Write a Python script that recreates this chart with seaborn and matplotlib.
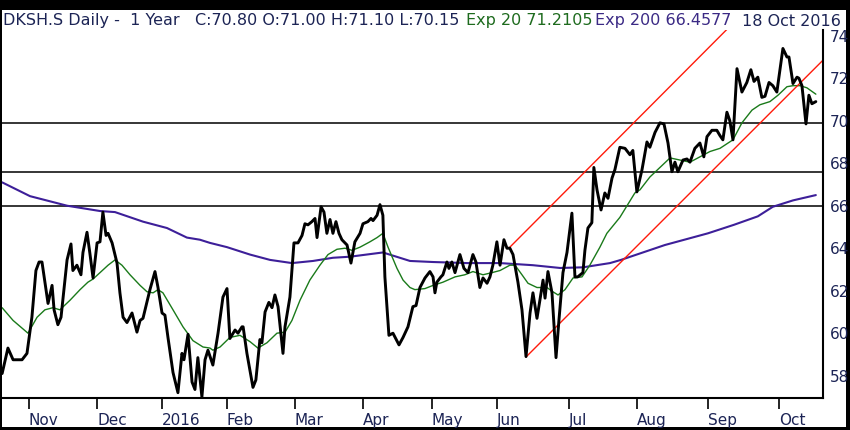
import numpy as np
import pandas as pd
import matplotlib
matplotlib.use("Agg")
import matplotlib.pyplot as plt
import seaborn as sns
from matplotlib.patches import Rectangle

# x values are days counted from 1 Nov 2015
close_day = [-12.0, -9.4, -7.1, -3.1, -0.9, 1.3, 3.1, 4.5, 5.8, 8.5, 10.3, 11.2, 12.9, 14.3,
             17.0, 18.75, 19.6, 21.4, 23.2, 24.1, 25.9, 27.2, 28.6, 30.4, 31.7, 33.0, 34.4,
             35.3, 37.1, 39.3, 40.6, 42.0, 43.75, 46.0, 48.2, 49.6, 50.9, 54.0, 56.25, 57.6,
             59.4, 60.7, 62.05, 64.3, 66.5, 68.3, 69.2, 71.0, 72.8, 74.1, 75.4, 77.2, 78.6,
             79.9, 82.1, 84.4, 86.6, 88.4, 89.7, 92.0, 93.3, 95.1, 95.6, 97.3, 100.0, 101.3,
             103.1, 104.0, 105.4, 107.1, 108.5, 109.8, 111.2, 113.4, 114.3, 116.5, 118.3,
             120.1, 121.9, 123.2, 124.55, 126.3, 127.7, 128.6, 130.4, 131.7, 133.0, 134.4,
             135.7, 137.05, 138.4, 139.7, 142.0, 143.75, 145.5, 147.8, 149.1, 151.3, 152.7,
             153.6, 155.4, 156.7, 158.0, 158.9, 160.7, 162.5, 165.2, 167.0, 169.2, 171.4,
             172.8, 174.55, 176.8, 179.0, 180.4, 181.25, 182.1, 183.9, 184.8, 186.6, 187.5,
             188.8, 190.2, 192.4, 194.2, 196.0, 198.2, 199.55, 201.3, 202.7, 204.5, 205.8,
             207.1, 208.9, 210.3, 212.05, 213.4, 214.7, 216.1, 218.3, 220.1, 221.9, 223.7,
             225.0, 226.8, 228.1, 229.5, 230.4, 231.7, 233.5, 235.3, 236.6, 238.4, 240.2,
             242.4, 243.75, 245.0, 247.3, 248.2, 249.55, 251.3, 252.2, 253.6, 255.4, 257.1,
             258.5, 260.3, 261.6, 263.8, 266.1, 268.3, 269.6, 271.4, 273.7, 275.9, 277.2,
             279.5, 281.7, 283.5, 285.3, 287.05, 288.4, 289.7, 292.0, 293.75, 295.1, 297.3,
             299.55, 301.3, 302.7, 304.9, 307.1, 308.5, 309.8, 311.6, 312.9, 314.3, 316.1,
             318.3, 320.5, 322.3, 323.7, 325.4, 327.2, 328.6, 330.4, 332.1, 333.9, 336.6,
             338.4, 339.3, 341.1, 342.9, 343.75, 345.1, 346.9, 348.2, 349.55, 351.3]
close = [58.1, 59.3, 58.75, 58.75, 59.05, 60.75, 62.95, 63.35, 63.35, 61.4, 62.25, 61.1, 60.4, 60.75,
         63.45, 64.2, 62.95, 63.2, 62.75, 63.8, 64.75, 63.75, 62.6, 64.25, 64.3, 65.7, 64.6,
         64.7, 64.25, 63.3, 61.9, 60.75, 60.5, 60.95, 60.05, 60.6, 60.7, 62.05, 62.9, 62.15,
         60.95, 60.85, 59.8, 58.15, 57.2, 59.05, 58.75, 59.95, 57.7, 57.35, 58.85, 57.0, 58.75,
         59.2, 58.5, 60.0, 61.7, 62.1, 59.75, 60.15, 60.0, 60.3, 60.3, 59.05, 57.45, 57.8,
         59.7, 59.55, 61.0, 61.45, 61.2, 61.8, 61.25, 59.05, 60.3, 61.7, 64.25,
         64.25, 64.6, 65.15, 65.1, 65.25, 65.4, 64.5, 65.95, 65.7, 64.7, 65.35,
         64.7, 65.25, 64.7, 64.4, 64.15, 63.3, 64.3, 64.7, 65.15, 65.25, 65.4,
         65.3, 65.55, 66.05, 65.55, 62.65, 59.9, 60.0, 59.45, 59.8, 60.3, 61.25,
         61.3, 62.15, 62.6, 62.9, 62.65, 61.9, 62.4, 62.65, 62.75, 63.35, 63.05,
         63.35, 62.85, 63.7, 63.05, 62.85, 63.7, 63.35, 62.15, 62.6, 62.35, 62.65,
         63.2, 64.3, 63.2, 64.4, 64.0, 64.0, 63.7, 62.4, 61.1, 58.9, 60.95,
         61.9, 60.7, 61.55, 62.5, 61.65, 62.9, 61.9, 58.85, 60.6, 62.85, 63.8,
         65.65, 62.65, 62.65, 62.85, 63.9, 64.95, 65.2, 67.8, 66.75, 65.8, 66.6,
         66.35, 67.3, 67.7, 68.75, 68.7, 68.4, 68.6, 66.65, 67.7, 69.0, 68.75,
         69.45, 69.9, 69.85, 68.95, 67.6, 68.05, 67.6, 68.15, 68.2, 68.05, 68.7,
         68.95, 68.3, 69.25, 69.55, 69.55, 69.3, 69.1, 70.4, 70.0, 69.1, 72.45,
         71.35, 71.8, 72.4, 71.85, 72.05, 71.1, 71.15, 71.8, 71.65, 71.35, 73.4,
         73.0, 73.0, 71.75, 72.05, 72.0, 71.65, 69.85, 71.2, 70.8, 70.9]

ema20_day = [-12.0, -7.1, -0.45, 3.6, 7.1, 10.7, 13.8, 18.3, 22.8, 26.3, 28.6, 31.7, 35.3, 38.4,
             41.5, 45.1, 49.6, 52.7, 55.4, 57.6, 59.8, 64.3, 68.75, 73.2, 77.7, 80.8, 82.1,
             85.3, 89.7, 94.2, 98.7, 102.2, 106.25, 110.7, 114.3, 117.4, 121.0, 125.4, 129.9,
             133.5, 137.5, 141.1, 144.2, 147.8, 152.2, 155.4, 158.0, 160.3, 164.3, 167.0,
             170.1, 172.3, 176.8, 180.4, 184.8, 190.2, 194.6, 198.2, 202.7, 206.7, 210.3,
             214.7, 217.0, 220.1, 222.8, 226.8, 231.25, 233.9, 236.2, 239.3, 242.9, 246.9,
             250.4, 254.9, 258.0, 263.8, 270.5, 272.8, 277.2, 281.7, 286.2, 290.6, 295.1,
             299.55, 304.0, 308.5, 312.1, 314.3, 318.3, 322.8, 326.3, 330.8, 334.4, 338.4,
             341.1, 344.2, 347.3, 351.3]
ema20 = [61.2, 60.6, 60.0, 60.75, 61.1, 61.2, 61.1, 61.55, 62.05, 62.4, 62.55, 62.85, 63.2, 63.45,
         63.2, 62.75, 62.25, 61.95, 61.9, 62.05, 61.9, 61.1, 60.3, 59.65, 59.35, 59.3, 59.2,
         59.35, 59.8, 59.9, 59.6, 59.3, 59.55, 60.0, 60.05, 60.6, 61.55, 62.5, 63.2,
         63.7, 63.95, 64.0, 63.9, 64.05, 64.3, 64.5, 64.7, 64.05, 63.05, 62.5,
         62.15, 62.05, 62.1, 62.25, 62.4, 62.65, 62.75, 62.9, 62.75, 62.85, 62.95,
         63.2, 63.2, 62.75, 62.35, 62.15, 62.15, 61.95, 61.8, 62.05, 62.6, 62.65,
         63.2, 64.05, 64.7, 65.45, 66.6, 66.75, 67.35, 67.8, 68.25, 68.15, 68.05,
         68.3, 68.55, 68.7, 68.95, 69.1, 69.9, 70.5, 70.75, 70.9, 71.2, 71.6,
         71.65, 71.65, 71.55, 71.25]

ema200_day = [-12.0, 0.45, 17.0, 31.7, 38.4, 50.9, 61.6, 70.5, 76.3, 80.8, 88.4, 98.7, 107.6,
              117.4, 126.8, 135.7, 143.3, 158.0, 170.1, 180.4, 195.5, 210.3, 225.0, 237.1,
              247.3, 259.4, 264.3, 283.9, 303.1, 314.7, 325.4, 332.1, 341.1, 351.3]
ema200 = [67.1, 66.45, 66.0, 65.75, 65.7, 65.25, 64.95, 64.5, 64.4, 64.25, 64.05, 63.7, 63.45,
          63.3, 63.4, 63.55, 63.6, 63.8, 63.4, 63.35, 63.3, 63.3, 63.2, 63.07,
          63.1, 63.3, 63.45, 64.15, 64.7, 65.1, 65.5, 65.95, 66.25, 66.5]

# trend channel (red)
chan_low_day = [221.9, 354.5]
chan_low = [58.88, 72.85]
chan_up_day = [214.7, 311.6]
chan_up = [64.05, 74.3]

levels = [69.9, 67.6, 66.0]

month_day = [0, 30.4, 59.4, 88.4, 118.75, 149.1, 179.9, 208.9, 241.0, 271.4, 303.0, 334.8]
month_lab = ["Nov", "Dec", "2016", "Feb", "Mar", "Apr", "May", "Jun", "Jul", "Aug", "Sep", "Oct"]
price_ticks = [58, 60, 62, 64, 66, 68, 70, 72, 74]

navy = "#1c2455"

sns.set_style("white")
plt.rcParams["font.family"] = ["DejaVu Sans"]

fig = plt.figure(figsize=(8.5, 4.3), dpi=100)
fig.patch.set_facecolor("black")
fig.add_artist(Rectangle((2 / 850, 3 / 430), 844 / 850, 417 / 430, transform=fig.transFigure,
                         facecolor="white", edgecolor="none", zorder=-1))
ax = fig.add_axes([2 / 850, 32 / 430, 821 / 850, 368 / 430])
ax.set_facecolor("none")

for lv in levels:
    ax.axhline(lv, color="black", lw=1.1, zorder=1)

sns.lineplot(x=ema200_day, y=ema200, ax=ax, color="#3d1f99", lw=1.5, estimator=None)
sns.lineplot(x=ema20_day, y=ema20, ax=ax, color="#1a7a1a", lw=1.0, estimator=None)
sns.lineplot(x=chan_low_day, y=chan_low, ax=ax, color="#ff1a0a", lw=1.0, estimator=None)
sns.lineplot(x=chan_up_day, y=chan_up, ax=ax, color="#ff1a0a", lw=1.0, estimator=None)
sns.lineplot(x=close_day, y=close, ax=ax, color="black", lw=2.1, estimator=None)

ax.set_xlim(-12.05, 354.5)
ax.set_ylim(56.95, 74.27)
ax.set_xlabel("")
ax.set_ylabel("")

ax.set_xticks(month_day)
ax.set_xticklabels(month_lab)
for lbl in ax.get_xticklabels():
    lbl.set_horizontalalignment("left")
ax.tick_params(axis="x", direction="out", length=8, width=1.2, color="black",
               labelsize=11, labelcolor=navy, pad=3, bottom=True)

ax.yaxis.tick_right()
ax.set_yticks(price_ticks)
ax.tick_params(axis="y", length=0, labelsize=11, labelcolor=navy, pad=5)

for side in ["top", "left"]:
    ax.spines[side].set_visible(False)
for side in ["bottom", "right"]:
    ax.spines[side].set_visible(True)
    ax.spines[side].set_color("black")
    ax.spines[side].set_linewidth(1.5)

ty = 409 / 430
fig.text(3 / 850, ty, "DKSH.S Daily -  1 Year   C:70.80 O:71.00 H:71.10 L:70.15",
         color=navy, fontsize=11.5, va="center")
fig.text(466 / 850, ty, "Exp 20 71.2105", color="#1e6b1e", fontsize=11.5, va="center")
fig.text(595 / 850, ty, "Exp 200 66.4577", color="#3b2a85", fontsize=11.5, va="center")
fig.text(742 / 850, ty, "18 Oct 2016", color=navy, fontsize=11.5, va="center")

fig.savefig("out.png", dpi=100, facecolor=fig.get_facecolor())
